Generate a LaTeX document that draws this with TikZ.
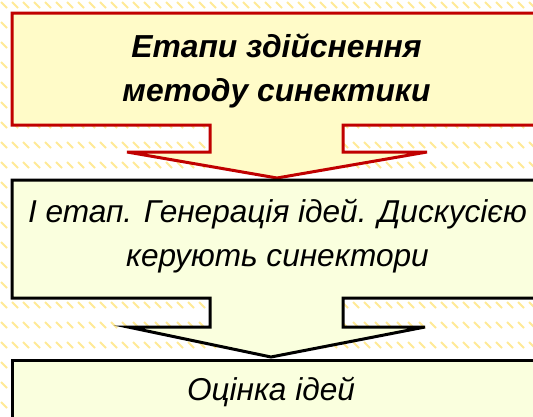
\documentclass[tikz,border=0pt]{standalone}
\usepackage{fontspec}
\setmainfont{Liberation Sans}
\definecolor{calloutred}{RGB}{192,0,0}
\definecolor{topfill}{RGB}{255,251,200}
\definecolor{stepfill}{RGB}{250,255,222}
\definecolor{stripe}{RGB}{255,234,150}

\begin{document}
\begin{tikzpicture}[x=1pt,y=-1pt,
  redcallout/.style={draw=calloutred,line width=3pt,fill=topfill},
  blackcallout/.style={draw=black,line width=3pt,fill=stepfill},
  headtext/.style={font=\fontsize{31.8}{44}\selectfont\bfseries\itshape,align=center},
  steptext/.style={font=\fontsize{31.6}{44}\selectfont\itshape,align=center}]
\useasboundingbox (0,0) rectangle (533,416);
\clip (0,0) rectangle (533,416);
% striped background
\fill[white] (0,0) rectangle (533,416);
\foreach \y in {2,22,...,422}
   \foreach \x in {-10,1,...,540}
      \draw[stripe,line width=2pt] (\x,\y) -- +(6,6);
% callouts
\draw[redcallout] (12,13) -- (545,13) -- (545,125) -- (343,125) -- (343,152)
   -- (427,152) -- (277,178) -- (127,152) -- (210,152) -- (210,125) -- (12,125) -- cycle;
\draw[blackcallout] (12,180) -- (545,180) -- (545,298) -- (343,298) -- (343,327)
   -- (425,327) -- (271,357) -- (128,327) -- (210,327) -- (210,298) -- (12,298) -- cycle;
\draw[blackcallout] (12,360) rectangle (545,430);
% texts
\node[headtext] (title) at (276.5,70.5) {Етапи здійснення\\методу синектики};
\node[steptext] (stage) at (277.5,236.5) {І етап. Генерація ідей. Дискусією\\керують синектори};
\node[steptext,anchor=base] (rating) at (271,400) {Оцінка ідей};
\end{tikzpicture}
\end{document}
